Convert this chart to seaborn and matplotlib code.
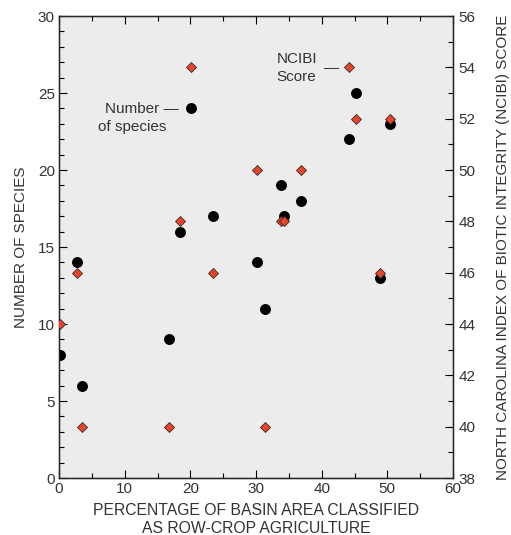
import numpy as np
import pandas as pd
import matplotlib
matplotlib.use("Agg")
import matplotlib.pyplot as plt
from matplotlib.ticker import MultipleLocator
import seaborn as sns

# ── Data ─────────────────────────────────────────────────────────────────────

pct_rowcrop = [0.15, 2.7, 3.5, 16.8, 18.4, 20.1, 23.5, 30.1,
               31.4, 33.8, 34.2, 36.9, 44.2, 45.2, 48.9, 50.4]
n_species   = [8, 14, 6, 9, 16, 24, 17, 14,
               11, 19, 17, 18, 22, 25, 13, 23]
ncibi_score = [44, 46, 40, 40, 48, 54, 46, 50,
               40, 48, 48, 50, 54, 52, 46, 52]

x_ticks      = [0, 10, 20, 30, 40, 50, 60]
left_ticks   = [0, 5, 10, 15, 20, 25, 30]
right_ticks  = [38, 40, 42, 44, 46, 48, 50, 52, 54, 56]

df = pd.DataFrame({"pct": pct_rowcrop, "species": n_species, "ncibi": ncibi_score})

# ── Style ─────────────────────────────────────────────────────────────────────

sns.set_style("ticks")
plt.rcParams["font.family"] = ["Liberation Sans", "DejaVu Sans"]
text_col = "#333333"
fs = 11

fig = plt.figure(figsize=(5.11, 5.35), dpi=100)
ax = fig.add_axes([0.1155, 0.1065, 0.771, 0.8635])
ax.set_facecolor("#ececec")

sns.scatterplot(data=df, x="pct", y="species", ax=ax, marker="o",
                color="black", edgecolor="black", s=62, linewidth=0, zorder=3)

ax.set_xlim(0, 60)
ax.set_ylim(0, 30)
ax.set_xticks(x_ticks)
ax.set_yticks(left_ticks)
ax.xaxis.set_minor_locator(MultipleLocator(5))
ax.yaxis.set_minor_locator(MultipleLocator(1))
ax.tick_params(axis="both", which="both", direction="in", colors="black",
               labelcolor=text_col, labelsize=fs, width=0.8)
ax.tick_params(axis="x", which="both", top=True)
ax.tick_params(which="major", length=6, pad=3)
ax.tick_params(which="minor", length=3.5)
ax.tick_params(axis="y", which="both", right=False)

ax.set_xlabel("PERCENTAGE OF BASIN AREA CLASSIFIED\nAS ROW-CROP AGRICULTURE",
              fontsize=11.3, color=text_col, labelpad=5, linespacing=1.2)
ax.set_ylabel("NUMBER OF SPECIES", fontsize=fs, color=text_col, labelpad=7)

for sp in ax.spines.values():
    sp.set_color("black")
    sp.set_linewidth(1.0)

# right axis: NCIBI score
ax2 = ax.twinx()
sns.scatterplot(data=df, x="pct", y="ncibi", ax=ax2, marker="D",
                color="#e8432b", edgecolor="#3a2a26", s=26, linewidth=0.6, zorder=4)
ax2.set_ylim(38, 56)
ax2.set_yticks(right_ticks)
ax2.yaxis.set_minor_locator(MultipleLocator(1))
ax2.tick_params(axis="y", which="both", direction="in", colors="black",
                labelcolor=text_col, labelsize=fs, width=0.8)
ax2.tick_params(which="major", length=6, pad=4)
ax2.tick_params(which="minor", length=3.5)
ax2.set_ylabel("NORTH CAROLINA INDEX OF BIOTIC INTEGRITY (NCIBI) SCORE",
               fontsize=fs, color=text_col, labelpad=15)
ax2.set_xlabel("")

# annotations
ax.text(7.0, 23.96, "Number —", fontsize=fs, color=text_col, va="center", ha="left")
ax.text(5.9, 22.8, "of species", fontsize=fs, color=text_col, va="center", ha="left")
ax.text(33.1, 27.2, "NCIBI", fontsize=fs, color=text_col, va="center", ha="left")
ax.text(33.1, 26.05, "Score", fontsize=fs, color=text_col, va="center", ha="left")
ax.text(40.3, 26.6, "—", fontsize=fs, color=text_col, va="center", ha="left")

fig.savefig("out.png", dpi=100)
